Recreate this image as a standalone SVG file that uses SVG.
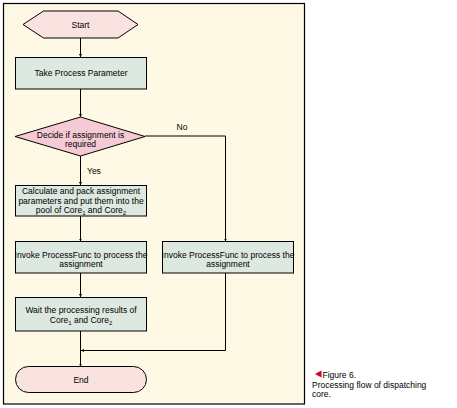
<svg xmlns="http://www.w3.org/2000/svg" width="457" height="408" viewBox="0 0 457 408">
<defs>
<marker id="ah" viewBox="0 0 6 6" refX="6" refY="3" markerWidth="3" markerHeight="3" orient="auto" markerUnits="userSpaceOnUse">
<path d="M0,0 L6,3 L0,6 Z" fill="#000"/>
</marker>
</defs>
<style>
text{font-family:"Liberation Sans",Arial,sans-serif;font-size:8.5px;fill:#000}
.c{text-anchor:middle}
.box{fill:#dce8e0;stroke:#000;stroke-width:1}
.term{fill:#f9e2df;stroke:#000;stroke-width:1}
.dec{fill:#f5cad4;stroke:#000;stroke-width:1}
.ln{fill:none;stroke:#000;stroke-width:1}
</style>
<rect width="457" height="408" fill="#fff"/>
<rect x="3.5" y="3.5" width="301" height="400.5" fill="#fdf9e4" stroke="#000" stroke-width="1.2"/>
<g id="connectors">
<path class="ln" d="M80.5,38 V57" marker-end="url(#ah)"/>
<path class="ln" d="M80.5,89 V117" marker-end="url(#ah)"/>
<path class="ln" d="M80.5,156 V185" marker-end="url(#ah)"/>
<path class="ln" d="M145,136 H225.5 V241.5" marker-end="url(#ah)"/>
<path class="ln" d="M80.5,216 V241.5" marker-end="url(#ah)"/>
<path class="ln" d="M80.5,273 V297" marker-end="url(#ah)"/>
<path class="ln" d="M80.5,331 V366.5" marker-end="url(#ah)"/>
<path class="ln" d="M225.5,273 V350.5 H81" marker-end="url(#ah)"/>
<text x="182" y="130" class="c">No</text>
<text x="87" y="174">Yes</text>
</g>
<g id="start">
<polygon class="term" points="23,24.5 43.5,11 118,11 138,24.5 118,38 43.5,38"/>
<text x="80.5" y="27.5" class="c">Start</text>
</g>
<g id="take">
<rect class="box" x="15.5" y="57.5" width="131" height="31.5"/>
<text x="81" y="76" class="c">Take Process Parameter</text>
</g>
<g id="decide">
<polygon class="dec" points="15,136.5 80.5,117 145,136.5 80.5,156"/>
<text x="80.5" y="138" class="c">Decide if assignment is</text>
<text x="80.5" y="147" class="c">required</text>
</g>
<g id="calc">
<rect class="box" x="15.5" y="185.5" width="131" height="30.5"/>
<text x="81" y="194" class="c">Calculate and pack assignment</text>
<text x="81" y="203.5" class="c">parameters and put them into the</text>
<text x="81" y="213" class="c">pool of Core<tspan font-size="6" dy="1.5">1</tspan><tspan dy="-1.5"> and Core</tspan><tspan font-size="6" dy="1.5">2</tspan></text>
</g>
<g id="invoke1">
<rect class="box" x="15.5" y="241.5" width="131" height="31.5"/>
<text x="81" y="257.5" class="c">Invoke ProcessFunc to process the</text>
<text x="81" y="267" class="c">assignment</text>
</g>
<g id="invoke2">
<rect class="box" x="162.5" y="241.5" width="131" height="31.5"/>
<text x="228" y="257.5" class="c">Invoke ProcessFunc to process the</text>
<text x="228" y="267" class="c">assignment</text>
</g>
<g id="wait">
<rect class="box" x="15.5" y="297.5" width="131" height="33.5"/>
<text x="81" y="313" class="c">Wait the processing results of</text>
<text x="81" y="323" class="c">Core<tspan font-size="6" dy="1.5">1</tspan><tspan dy="-1.5"> and Core</tspan><tspan font-size="6" dy="1.5">2</tspan></text>
</g>
<g id="end">
<rect class="term" x="15.5" y="366.5" width="131" height="26" rx="13" ry="13"/>
<text x="81" y="382.5" class="c">End</text>
</g>
<g id="caption">
<polygon points="315,374 321.5,370.5 321.5,377.5" fill="#d0021b"/>
<text x="322.5" y="377.5">Figure 6.</text>
<text x="312" y="387.5">Processing flow of dispatching</text>
<text x="312" y="397">core.</text>
</g>
</svg>
